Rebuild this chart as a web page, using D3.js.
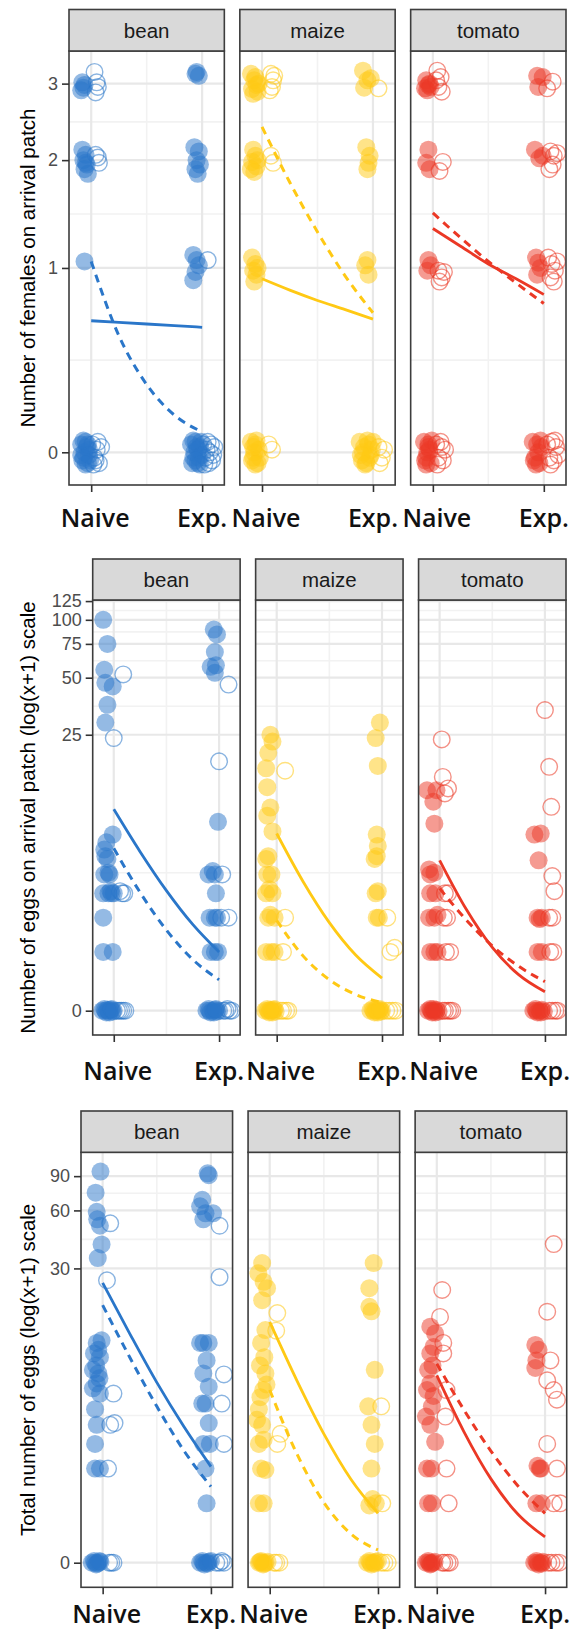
<!DOCTYPE html>
<html>
<head>
<meta charset="utf-8">
<script src="https://cdn.jsdelivr.net/npm/d3@7"></script>
<style>
  body { margin: 0; background: #fff; }
  svg { display: block; }
</style>
</head>
<body>
<div id="chart"></div>
<script>
// facet names and colours
const crops = ["bean", "maize", "tomato"];
const cropColors = ["#2a76c9", "#ffc914", "#eb3825"];
const groupLabels = ["Naive", "Exp."];
const lineX = [0, 0.25, 0.5, 0.75, 1];

// ---------- row 1 : number of females on arrival patch ----------
const femTicks = [0, 1, 2, 3];
const femBeanFilled = [
  [-0.08,3.02],[-0.07,2.94],[-0.06,2.98],[-0.09,2.9],
  [-0.05,2.06],[-0.07,2.0],[-0.04,1.95],[-0.06,1.9],[-0.03,1.85],[-0.08,2.12],[-0.05,1.97],
  [-0.06,1.05],
  [-0.09,0.03],[-0.07,-0.02],[-0.05,0.04],[-0.03,-0.04],[-0.08,-0.03],[-0.02,0.01],[-0.06,0.0],
  [-0.04,0.02],[-0.01,-0.03],[-0.09,-0.01],[-0.03,0.03],[-0.07,0.045],[-0.05,-0.045],[-0.02,-0.01],
  [0.94,3.15],[0.97,3.12],[0.95,3.18],
  [0.93,2.15],[0.97,2.1],[0.95,2.0],[0.98,1.95],[0.94,1.9],[0.96,1.85],
  [0.92,1.1],[0.95,1.06],[0.97,1.02],[0.94,0.97],[0.92,0.91],
  [0.9,0.03],[0.92,-0.02],[0.94,0.04],[0.96,-0.04],[0.98,0.02],[0.91,-0.04],[0.93,0.0],[0.95,0.02],
  [0.97,-0.02],[0.99,0.04],[1.0,-0.01],[0.92,0.045],[0.96,0.01],[0.94,-0.03],[0.98,-0.045]
];
const femBeanHollow = [
  [0.03,3.18],[0.05,3.02],[0.06,2.95],[0.04,2.87],
  [0.06,2.03],[0.07,1.97],[0.04,2.06],
  [0.01,0.03],[0.03,-0.02],[0.05,0.01],[0.07,-0.04],[0.09,0.02],[0.02,-0.045],[0.06,0.04],[0.04,-0.03],
  [1.05,1.06],
  [1.01,0.03],[1.03,-0.02],[1.05,0.04],[1.07,0.0],[1.09,-0.03],[1.11,0.02],[1.02,-0.045],[1.06,-0.04],
  [1.08,0.03],[1.1,-0.01],[1.04,0.01]
];
const femMaizeFilled = [
  [-0.1,3.15],[-0.07,3.05],[-0.05,2.98],[-0.09,2.92],[-0.04,2.88],[-0.06,3.1],[-0.08,2.85],[-0.03,3.0],
  [-0.08,2.12],[-0.06,2.05],[-0.09,1.98],[-0.05,1.93],[-0.07,1.87],[-0.04,2.0],[-0.1,1.9],
  [-0.09,1.08],[-0.06,1.03],[-0.08,0.98],[-0.05,0.95],[-0.07,0.9],[-0.04,1.0],
  [-0.1,0.04],[-0.08,-0.02],[-0.06,0.03],[-0.04,-0.04],[-0.09,-0.03],[-0.03,0.01],[-0.07,0.0],
  [-0.05,0.045],[-0.02,-0.02],[-0.08,0.02],[-0.06,-0.045],
  [0.91,3.2],[0.95,3.05],[0.98,3.08],[0.92,2.94],
  [0.94,2.15],[0.96,1.97],[0.95,1.9],[0.97,2.05],
  [0.95,1.06],[0.96,0.95],[0.93,1.02],
  [0.88,0.04],[0.9,-0.03],[0.92,0.02],[0.94,-0.04],[0.96,0.03],[0.98,-0.01],[1.0,0.04],[0.91,0.0],
  [0.93,-0.045],[0.95,0.045],[0.97,-0.02],[0.99,0.01],[0.89,-0.01]
];
const femMaizeHollow = [
  [0.08,3.15],[0.1,3.05],[0.09,2.95],[0.11,3.12],[0.07,2.9],
  [0.1,1.97],[0.08,2.05],
  [0.09,0.01],[0.06,0.03],
  [1.05,2.93],
  [1.05,0.02],[1.08,-0.02],[1.1,0.01],[1.06,-0.04]
];
const femTomatoFilled = [
  [-0.06,3.05],[-0.04,2.98],[-0.07,2.93],[-0.03,3.0],[-0.05,2.9],[-0.02,2.95],
  [-0.04,2.12],[-0.06,1.97],[-0.03,1.9],
  [-0.04,1.06],[-0.02,1.02],[-0.05,0.98],
  [-0.08,0.04],[-0.06,-0.02],[-0.04,0.03],[-0.02,-0.04],[-0.07,-0.03],[-0.03,0.01],[-0.05,0.0],
  [-0.01,0.045],[-0.06,-0.045],[-0.04,0.02],
  [0.94,3.12],[0.99,3.1],[0.95,2.95],
  [0.92,2.12],[0.99,2.05],[0.96,2.02],
  [0.93,1.08],[0.95,1.04],[0.97,1.0],[0.94,0.95],
  [0.9,0.04],[0.92,-0.02],[0.94,0.03],[0.96,-0.04],[0.98,0.02],[0.91,-0.03],[0.95,0.0],[0.97,0.045],[0.93,-0.045]
];
const femTomatoHollow = [
  [0.04,3.2],[0.07,3.1],[0.05,2.95],[0.08,2.88],[0.03,3.05],
  [0.09,1.98],[0.06,1.88],
  [0.05,0.98],[0.08,0.93],[0.1,0.97],[0.06,0.9],
  [0.03,0.03],[0.05,-0.02],[0.07,0.04],[0.09,-0.03],[0.11,0.01],[0.04,-0.045],[0.08,0.02],
  [1.03,2.93],[1.08,3.03],
  [1.06,2.1],[1.09,2.05],[1.12,2.08],[1.08,1.95],[1.05,1.9],
  [1.04,1.08],[1.07,1.03],[1.1,0.98],[1.12,1.05],[1.06,0.93],[1.09,0.9],
  [1.03,0.03],[1.05,-0.02],[1.07,0.04],[1.09,-0.03],[1.11,0.02],[1.13,-0.01],[1.06,-0.045],[1.1,0.045]
];
const femSolid = [[0.64,0.63,0.62,0.61,0.6], [0.92,0.84,0.77,0.71,0.65], [1.32,1.17,1.03,0.92,0.81]];
const femDashed = [[1.05,0.55,0.29,0.15,0.08], [2.4,1.76,1.29,0.94,0.69], [1.46,1.24,1.05,0.89,0.75]];

// ---------- row 2 : eggs on arrival patch ----------
const arrTicks = [0, 25, 50, 75, 100, 125];
const arrBeanFilled = [
  [-0.1,100],[-0.06,75],[-0.09,55],[-0.08,47],[-0.01,45],[-0.06,36],[-0.08,29],
  [-0.01,7],[-0.07,6.3],[-0.09,5.7],[-0.06,5],[-0.08,5.2],[-0.09,4],[-0.04,4],[-0.05,4.1],
  [-0.1,3],[-0.02,3],[0.0,3],[-0.05,3],[-0.03,3.1],[-0.1,2],[-0.1,1],[-0.01,1],
  [-0.11,0],[-0.09,0.02],[-0.07,-0.02],[-0.05,0],[-0.03,0.01],[-0.01,-0.01],[-0.08,0],[-0.04,-0.02],
  [-0.02,0.02],[-0.06,0.01],[0.0,0],
  [0.95,89],[0.98,84],[0.96,68],[0.92,57],[0.97,58],[0.96,53],
  [0.99,8.3],[0.9,4],[0.96,4],[0.94,4.2],[0.97,3],[0.91,2],[0.96,2],[0.98,2],[0.92,1],[0.96,1],[0.99,1],
  [0.88,0],[0.9,0.02],[0.92,-0.02],[0.94,0],[0.96,0.01],[0.98,-0.01],[1.0,0],[0.91,0],[0.95,-0.02],[0.97,0.02]
];
const arrBeanHollow = [
  [0.09,52],[0.0,24],[0.08,3],[0.1,3],[0.06,3.1],
  [0.07,0],[0.09,0],[0.05,0],[0.11,0],[0.03,0],
  [1.09,46],[1.0,18],[1.03,4],[1.09,2],[1.02,2],
  [1.1,0],[1.12,0],[1.06,0],[1.04,0],[1.08,0.02]
];
const arrMaizeFilled = [
  [-0.06,25],[-0.04,23],[-0.08,20],[-0.1,16.5],[-0.09,13],[-0.06,10],[-0.09,9],[-0.04,7.3],
  [-0.08,5.2],[-0.1,5],[-0.05,4],[-0.09,4],[-0.04,3],[-0.1,3],[-0.07,3.2],[-0.08,2],[-0.02,2],[-0.06,2.1],
  [-0.05,1],[-0.1,1],[-0.02,1],
  [-0.11,0],[-0.09,0.02],[-0.07,-0.02],[-0.05,0],[-0.03,0.01],[-0.01,-0.01],[-0.08,0],[-0.04,-0.02],
  [-0.02,0.02],[-0.06,0.01],
  [0.98,29],[0.94,24],[0.96,17],[0.95,7],[0.96,6],[0.95,5.2],[0.93,5],[0.94,3],[0.96,3.1],[0.95,2],[0.97,2],
  [0.89,0],[0.91,0.02],[0.93,-0.02],[0.95,0],[0.97,0.01],[0.99,-0.01],[1.0,0],[0.92,0],[0.96,-0.02],
  [0.98,0.02],[0.94,0.01]
];
const arrMaizeHollow = [
  [0.08,16],[0.08,2],[0.06,1],[0.09,0],[0.06,0],[0.04,0],[0.11,0],
  [1.08,1],[1.12,1.1],[1.05,2],[1.1,0],[1.07,0],[1.13,0],[1.04,0]
];
const arrTomatoFilled = [
  [-0.12,12.5],[-0.03,12.5],[-0.06,10.8],[-0.05,8.1],[-0.1,4.3],[-0.09,4],[-0.05,4.1],[-0.09,3],[-0.04,3],
  [-0.1,2],[-0.05,2],[-0.02,2.1],[-0.09,1],[-0.05,1],[-0.02,1],
  [-0.11,0],[-0.09,0.02],[-0.07,-0.02],[-0.05,0],[-0.03,0.01],[-0.01,-0.01],[-0.08,0],[-0.04,-0.02],[-0.06,0.02],
  [0.96,7.1],[0.9,7],[0.94,4.9],[0.93,2],[0.97,2],[0.95,1.95],[0.93,1],[0.97,1],
  [0.89,0],[0.91,0.02],[0.93,-0.02],[0.95,0],[0.97,0.01],[0.99,-0.01],[0.92,0],[0.96,-0.02]
];
const arrTomatoHollow = [
  [0.02,23.6],[0.03,14.8],[0.08,12.8],[0.05,12],[0.08,3],[0.05,3],[0.07,2],[0.04,2],[0.1,1],[0.06,1],
  [0.08,0],[0.05,0],[0.1,0],[0.03,0],[0.12,0],
  [1.0,33.8],[1.04,16.8],[1.06,10.1],[1.07,3.9],[1.09,3.1],[1.07,2],[1.04,2],[1.08,1],[1.05,1],
  [1.1,0],[1.07,0],[1.04,0],[1.12,0]
];
const arrSolid = [[9.8,5.54,3.13,1.77,1.0], [7.1,3.6,1.83,0.93,0.47], [4.9,2.33,1.11,0.53,0.25]];
const arrDashed = [[5.8,3.04,1.59,0.83,0.44], [1.9,0.91,0.44,0.21,0.1], [3.24,1.93,1.15,0.69,0.41]];

// ---------- row 3 : total number of eggs ----------
const totTicks = [0, 30, 60, 90];
const totBeanFilled = [
  [-0.02,95],[-0.065,74],[-0.055,59],[-0.05,54],[-0.025,50],[-0.01,40],[-0.045,34],
  [-0.01,12.4],[-0.055,12],[-0.04,11],[-0.08,10.5],[-0.025,10],[-0.06,9],[-0.09,8.5],[-0.04,8.1],
  [-0.03,7.6],[-0.055,7.1],[-0.09,6.65],[-0.025,6.2],[-0.07,5],[-0.055,4],[-0.07,3],[-0.07,2],[-0.025,2],
  [-0.1,0],[-0.08,0.02],[-0.06,-0.02],[-0.04,0],[-0.02,0.01],[-0.07,0],[-0.05,-0.01],[-0.03,0.02],
  [0.97,93],[0.98,91],[0.92,68],[0.9,63],[0.95,58],[1.02,58],[0.93,54],
  [0.9,12],[0.98,12],[0.93,12],[0.96,9.6],[0.93,8.1],[0.98,6.8],[0.95,5.4],[0.92,5.4],[0.98,4.1],
  [0.93,3],[0.99,3],[0.95,2],[0.96,1],
  [0.9,0],[0.92,0.02],[0.94,-0.02],[0.96,0],[0.98,0.01],[0.93,0],[0.97,-0.01],[1.0,0.02]
];
const totBeanHollow = [
  [0.07,51.5],[0.04,26],[0.1,6.2],[0.07,4],[0.11,4.1],[0.05,2],[0.1,0],[0.06,0],[0.08,0],
  [1.08,50],[1.08,27],[1.12,8],[1.1,5.4],[1.12,3],[1.12,0],[1.08,0],[1.05,0],[1.1,0.02]
];
const totMaizeFilled = [
  [-0.07,32],[-0.105,28.3],[-0.056,25.5],[-0.025,23.6],[-0.07,20.4],[-0.04,14.1],
  [-0.08,12],[-0.05,10],[-0.09,9],[-0.04,8.1],[-0.03,7],[-0.06,6.5],[-0.086,5.9],[-0.1,5],
  [-0.117,4.3],[-0.07,4],[-0.056,3.2],[-0.1,3],[-0.04,1.95],[-0.08,2],[-0.056,1],[-0.1,1],
  [-0.1,0],[-0.08,0.02],[-0.06,-0.02],[-0.04,0],[-0.02,0.01],[-0.07,0],[-0.05,-0.01],[-0.09,0.01],
  [0.96,32],[0.92,23.6],[0.92,18.8],[0.94,17.8],[0.97,8.5],[0.91,5.2],[0.94,4],[0.97,3],[0.94,2],
  [0.98,1],[0.95,1.1],[0.92,0.95],
  [0.9,0],[0.92,0.02],[0.94,-0.02],[0.96,0],[0.98,0.01],[0.93,0],[0.97,-0.01],[1.0,0.02]
];
const totMaizeHollow = [
  [0.07,17.4],[0.06,14],[0.07,3],[0.1,3.5],[0.06,0],[0.09,0],[0.04,0],
  [1.03,5.2],[1.04,1],[1.06,0],[1.09,0],[1.03,0]
];
const totTomatoFilled = [
  [-0.06,14.7],[-0.015,13.5],[-0.03,11.4],[-0.06,10.5],[-0.04,9],[-0.08,8.5],[-0.06,7.1],[-0.09,6.5],
  [-0.03,6],[-0.045,5.2],[-0.1,4.5],[-0.06,4],[-0.015,3.1],[-0.09,2],[-0.05,2],[-0.045,1],[-0.08,1],
  [-0.1,0],[-0.08,0.02],[-0.06,-0.02],[-0.04,0],[-0.02,0.01],[-0.07,0],[-0.05,-0.01],
  [0.91,11.7],[0.94,11],[0.92,9.6],[0.91,8.7],[0.95,2],[0.96,2],[0.93,2.1],[0.92,1],[0.97,1],
  [0.9,0],[0.92,0.02],[0.94,-0.02],[0.96,0],[0.98,0.01],[0.93,0],[0.97,-0.01]
];
const totTomatoHollow = [
  [0.05,23.1],[0.03,16.6],[0.06,12],[0.06,10.5],[0.09,6.5],[0.08,4.5],[0.09,2],[0.11,1],
  [0.07,0],[0.1,0],[0.05,0],[0.12,0],
  [1.08,40.2],[1.02,17.7],[1.05,9.6],[1.02,7.4],[1.08,6.5],[1.11,5.7],[1.02,3],[1.11,2],[1.08,1],[1.14,1],
  [1.06,0],[1.1,0],[1.13,0],[1.03,0]
];
const totSolid = [[25.2,13.5,7.2,3.9,2.07], [15.6,7.4,3.5,1.65,0.78], [7.9,3.62,1.66,0.76,0.35]];
const totDashed = [[19.2,10.0,5.2,2.7,1.43], [6.5,2.57,1.02,0.4,0.16], [9.2,4.96,2.68,1.45,0.78]];

// layout of the three stacked facet rows (pixel geometry only)
const rows = [
  { title: "Number of females on arrival patch", ticks: femTicks,
    filled: [femBeanFilled, femMaizeFilled, femTomatoFilled],
    hollow: [femBeanHollow, femMaizeHollow, femTomatoHollow],
    solid: femSolid, dashed: femDashed,
    lim: [-0.123, 1.509], left: 69, right: 566, stripTop: 9.5, top: 51, bottom: 485, labelY: 527 },
  { title: "Number of eggs on arrival patch (log(x+1) scale", ticks: arrTicks,
    filled: [arrBeanFilled, arrMaizeFilled, arrTomatoFilled],
    hollow: [arrBeanHollow, arrMaizeHollow, arrTomatoHollow],
    solid: arrSolid, dashed: arrDashed,
    lim: [-0.287, 4.849], left: 92.7, right: 566, stripTop: 559, top: 600, bottom: 1035, labelY: 1080 },
  { title: "Total number of eggs (log(x+1) scale", ticks: totTicks,
    filled: [totBeanFilled, totMaizeFilled, totTomatoFilled],
    hollow: [totBeanHollow, totMaizeHollow, totTomatoHollow],
    solid: totSolid, dashed: totDashed,
    lim: [-0.287, 4.789], left: 81, right: 566.7, stripTop: 1111, top: 1152.3, bottom: 1587.3, labelY: 1623 }
];

const width = 586, height = 1630;
const gap = 15.5;
const radius = 9;
const sans = "'Liberation Sans', Arial, Helvetica, sans-serif";

const svg = d3.select("#chart").append("svg")
    .attr("width", width)
    .attr("height", height);

rows.forEach(function(row, r) {
    // log(x+1) axis: a log scale on (value + 1)
    let y = d3.scaleLog()
        .domain([Math.exp(row.lim[0]), Math.exp(row.lim[1])])
        .range([row.bottom, row.top]);
    let yv = v => y(v + 1);

    let majors = row.ticks.map(t => t + 1);
    let minors = d3.pairs(majors).map(p => Math.sqrt(p[0] * p[1]));

    let panelW = (row.right - row.left - 2 * gap) / 3;

    crops.forEach(function(crop, c) {
        let pl = row.left + c * (panelW + gap);
        let x = d3.scaleLinear().domain([-0.2, 1.2]).range([pl, pl + panelW]);
        let g = svg.append("g");
        let clipId = `clip-${r}-${c}`;

        g.append("clipPath").attr("id", clipId)
          .append("rect")
            .attr("x", pl).attr("y", row.top)
            .attr("width", panelW).attr("height", row.bottom - row.top);

        // grid
        let grid = g.append("g").attr("clip-path", `url(#${clipId})`);
        grid.selectAll(".hminor").data(minors).enter().append("line")
            .attr("x1", pl).attr("x2", pl + panelW)
            .attr("y1", d => y(d)).attr("y2", d => y(d))
            .attr("stroke", "#f2f2f2").attr("stroke-width", 1.6);
        grid.append("line")
            .attr("x1", x(0.5)).attr("x2", x(0.5))
            .attr("y1", row.top).attr("y2", row.bottom)
            .attr("stroke", "#f2f2f2").attr("stroke-width", 1.6);
        grid.selectAll(".hmajor").data(majors).enter().append("line")
            .attr("x1", pl).attr("x2", pl + panelW)
            .attr("y1", d => y(d)).attr("y2", d => y(d))
            .attr("stroke", "#e8e8e8").attr("stroke-width", 2.2);
        grid.selectAll(".vmajor").data([0, 1]).enter().append("line")
            .attr("x1", d => x(d)).attr("x2", d => x(d))
            .attr("y1", row.top).attr("y2", row.bottom)
            .attr("stroke", "#e8e8e8").attr("stroke-width", 2.2);

        // points
        let marks = g.append("g").attr("clip-path", `url(#${clipId})`);
        marks.selectAll(".hollow").data(row.hollow[c]).enter().append("circle")
            .attr("cx", d => x(d[0]))
            .attr("cy", d => yv(d[1]))
            .attr("r", radius - 0.7)
            .attr("fill", "none")
            .attr("stroke", cropColors[c])
            .attr("stroke-opacity", 0.55)
            .attr("stroke-width", 1.4);
        marks.selectAll(".filled").data(row.filled[c]).enter().append("circle")
            .attr("cx", d => x(d[0]))
            .attr("cy", d => yv(d[1]))
            .attr("r", radius)
            .attr("fill", cropColors[c])
            .attr("fill-opacity", 0.5);

        // fitted lines
        let line = d3.line()
            .x(d => x(d[0]))
            .y(d => yv(d[1]))
            .curve(d3.curveMonotoneX);
        marks.append("path")
            .attr("d", line(d3.zip(lineX, row.solid[c])))
            .attr("fill", "none")
            .attr("stroke", cropColors[c])
            .attr("stroke-width", 2.8);
        marks.append("path")
            .attr("d", line(d3.zip(lineX, row.dashed[c])))
            .attr("fill", "none")
            .attr("stroke", cropColors[c])
            .attr("stroke-width", 3)
            .attr("stroke-dasharray", "8,6");

        // panel border
        g.append("rect")
            .attr("x", pl).attr("y", row.top)
            .attr("width", panelW).attr("height", row.bottom - row.top)
            .attr("fill", "none").attr("stroke", "#3d3d3d").attr("stroke-width", 1.6);

        // strip
        g.append("rect")
            .attr("x", pl).attr("y", row.stripTop)
            .attr("width", panelW).attr("height", row.top - row.stripTop)
            .attr("fill", "#d9d9d9").attr("stroke", "#3d3d3d").attr("stroke-width", 1.6);
        g.append("text")
            .attr("x", pl + panelW / 2)
            .attr("y", (row.stripTop + row.top) / 2)
            .attr("text-anchor", "middle")
            .attr("dominant-baseline", "central")
            .style("font-family", sans)
            .style("font-size", "20.5px")
            .style("fill", "#1a1a1a")
            .text(crop);

        // x axis ticks + group labels
        let xAxis = g.append("g")
            .attr("transform", `translate(0, ${row.bottom})`)
            .call(d3.axisBottom(x).tickValues([0, 1]).tickSize(7).tickFormat(""));
        xAxis.select(".domain").remove();
        xAxis.selectAll("line").attr("stroke", "#333").attr("stroke-width", 1.6);

        g.selectAll(".glabel").data([0, 1]).enter().append("text")
            .attr("x", d => x(d) + (d === 0 ? 4 : 0))
            .attr("y", row.labelY)
            .attr("text-anchor", "middle")
            .style("font-family", "'Open Sans', 'Noto Sans', sans-serif")
            .style("font-size", "25px")
            .style("font-weight", 600)
            .style("fill", "#111")
            .text(d => groupLabels[d]);

        // y axis on the first panel
        if (c === 0) {
            let yAxis = g.append("g")
                .attr("transform", `translate(${pl}, 0)`)
                .call(d3.axisLeft(y).tickValues(majors).tickSize(7).tickPadding(4)
                    .tickFormat(d => d3.format("d")(Math.round(d - 1))));
            yAxis.select(".domain").remove();
            yAxis.selectAll("line").attr("stroke", "#333").attr("stroke-width", 1.6);
            yAxis.selectAll("text")
                .style("font-family", sans)
                .style("font-size", "18px")
                .style("fill", "#4d4d4d");

            g.append("text")
                .attr("transform", `translate(35, ${(row.top + row.bottom) / 2}) rotate(-90)`)
                .attr("text-anchor", "middle")
                .style("font-family", sans)
                .style("font-size", "20.5px")
                .style("fill", "#000")
                .text(row.title);
        }
    });
});
</script>
</body>
</html>
